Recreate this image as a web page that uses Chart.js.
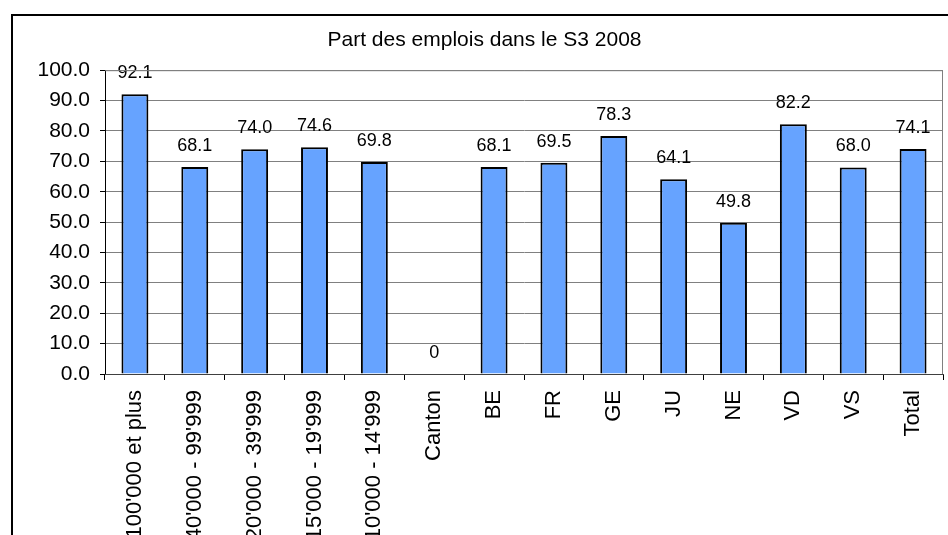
<!DOCTYPE html>
<html>
<head>
<meta charset="utf-8">
<script src="https://cdn.jsdelivr.net/npm/chart.js@4/dist/chart.umd.min.js"></script>
<style>
  html, body { margin: 0; padding: 0; background: #fff; overflow: hidden; }
  #frame { position: absolute; left: 11px; top: 14px; width: 980px; height: 620px;
           border-left: 2px solid #000; border-top: 2px solid #000; }
  #chart { position: absolute; left: 0; top: 0; }
</style>
</head>
<body>
<div id="frame"></div>
<canvas id="chart" width="968" height="600"></canvas>
<script>
// catégories et valeurs
const categories = ["100'000 et plus", "40'000 - 99'999", "20'000 - 39'999", "15'000 - 19'999",
  "10'000 - 14'999", "Canton", "BE", "FR", "GE", "JU", "NE", "VD", "VS", "Total"];
const parts = [92.1, 68.1, 74.0, 74.6, 69.8, 0, 68.1, 69.5, 78.3, 64.1, 49.8, 82.2, 68.0, 74.1];
const titre = "Part des emplois dans le S3 2008";
const yMin = 0, yMax = 100, yStep = 10;

const FONT = "'Liberation Sans', Arial, sans-serif";

// cadre gris de la zone du graphique
const plotBorder = {
  id: 'plotBorder',
  afterDraw(chart) {
    const a = chart.chartArea, ctx = chart.ctx;
    ctx.save();
    ctx.strokeStyle = '#808080';
    ctx.lineWidth = 1;
    ctx.beginPath();
    ctx.moveTo(a.left, a.top + 0.5);
    ctx.lineTo(a.right - 0.5, a.top + 0.5);
    ctx.lineTo(a.right - 0.5, a.bottom);
    ctx.stroke();
    ctx.restore();
  }
};

// étiquettes de valeurs au-dessus des barres
const valueLabels = {
  id: 'valueLabels',
  afterDatasetsDraw(chart) {
    const ctx = chart.ctx;
    const meta = chart.getDatasetMeta(0);
    ctx.save();
    ctx.font = '18px ' + FONT;
    ctx.fillStyle = '#000';
    ctx.textAlign = 'center';
    ctx.textBaseline = 'middle';
    meta.data.forEach((bar, i) => {
      const v = parts[i];
      ctx.fillText(v === 0 ? '0' : v.toFixed(1), bar.x, bar.y - 21);
    });
    ctx.restore();
  }
};

new Chart(document.getElementById('chart'), {
  type: 'bar',
  data: {
    labels: categories,
    datasets: [{
      data: parts,
      backgroundColor: '#66a3ff',
      borderColor: '#000',
      borderWidth: 2,
      barPercentage: 0.45,
      categoryPercentage: 1
    }]
  },
  options: {
    responsive: false,
    animation: false,
    layout: { padding: { left: 26, right: 25, top: 0, bottom: 0 } },
    plugins: {
      legend: { display: false },
      tooltip: { enabled: false },
      title: {
        display: true,
        text: titre,
        color: '#000',
        font: { family: FONT, size: 21, weight: 'normal' },
        padding: { top: 28, bottom: 17 }
      }
    },
    scales: {
      y: {
        min: yMin, max: yMax,
        ticks: {
          stepSize: yStep,
          color: '#000',
          font: { family: FONT, size: 21 },
          padding: 10,
          callback: v => v.toFixed(1)
        },
        grid: { color: '#808080', tickColor: '#000', tickLength: 5 },
        border: { color: '#000', width: 1 },
        afterFit(scale) { scale.width = 79; }
      },
      x: {
        offset: true,
        ticks: {
          color: '#000',
          font: { family: FONT, size: 22 },
          minRotation: 90, maxRotation: 90,
          autoSkip: false,
          padding: 10
        },
        grid: { offset: true, drawOnChartArea: false, tickColor: '#000', tickLength: 6 },
        border: { color: '#404040', width: 1 },
        afterFit(scale) { scale.height = 226; }
      }
    }
  },
  plugins: [plotBorder, valueLabels]
});
</script>
</body>
</html>
